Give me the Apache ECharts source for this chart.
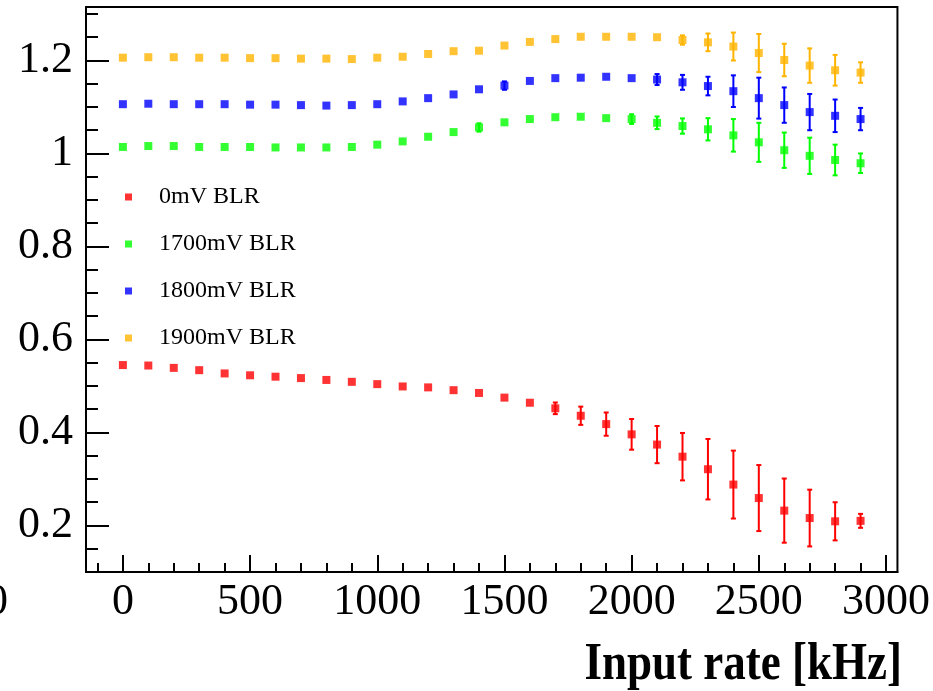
<!DOCTYPE html>
<html><head><meta charset="utf-8">
<script src="https://cdn.jsdelivr.net/npm/echarts@6/dist/echarts.min.js"></script>
<style>html,body{margin:0;padding:0;background:#fff}#c{width:933px;height:691px}</style>
</head><body><div id="c"></div>
<script>
// Input rate [kHz]
const rates = [0,100,200,300,400,500,600,700,800,900,1000,1100,1200,1300,1400,1500,1600,1700,1800,1900,2000,2100,2200,2300,2400,2500,2600,2700,2800,2900];
const names = ['0mV BLR','1700mV BLR','1800mV BLR','1900mV BLR'];
const colors = ['#ff0000','#00ff00','#0000ff','#ffb400'];
const bl0 = [0.545,0.544,0.539,0.534,0.527,0.523,0.520,0.517,0.513,0.509,0.504,0.499,0.497,0.491,0.485,0.475,0.464,0.452,0.436,0.418,0.396,0.374,0.348,0.321,0.288,0.259,0.232,0.216,0.209,0.210];
const bl0Err = [0,0,0,0,0,0,0,0,0,0,0,0,0,0,0,0,0,0.0125,0.0196,0.025,0.033,0.040,0.051,0.065,0.073,0.071,0.069,0.061,0.041,0.015];
const bl1700 = [1.014,1.016,1.016,1.014,1.014,1.014,1.013,1.013,1.013,1.014,1.019,1.026,1.036,1.046,1.056,1.067,1.074,1.078,1.079,1.076,1.074,1.066,1.059,1.052,1.039,1.024,1.007,0.995,0.986,0.979];
const bl1700Err = [0,0,0,0,0,0,0,0,0,0,0,0,0,0,0.009,0,0,0,0,0,0.0104,0.0136,0.0164,0.024,0.035,0.042,0.038,0.039,0.033,0.021];
const bl1800 = [1.106,1.107,1.106,1.106,1.106,1.105,1.105,1.104,1.103,1.104,1.106,1.112,1.119,1.127,1.138,1.146,1.156,1.162,1.163,1.165,1.162,1.159,1.153,1.145,1.134,1.119,1.104,1.089,1.081,1.074];
const bl1800Err = [0,0,0,0,0,0,0,0,0,0,0,0,0,0,0,0.009,0,0,0,0,0,0.0118,0.016,0.020,0.034,0.044,0.038,0.039,0.035,0.024];
const bl1900 = [1.206,1.207,1.207,1.206,1.206,1.205,1.205,1.204,1.204,1.203,1.206,1.208,1.214,1.220,1.221,1.232,1.240,1.246,1.251,1.251,1.251,1.250,1.244,1.239,1.230,1.216,1.201,1.189,1.179,1.174];
const bl1900Err = [0,0,0,0,0,0,0,0,0,0,0,0,0,0,0,0,0,0,0,0,0,0,0.010,0.019,0.030,0.041,0.035,0.037,0.033,0.022];
const xMajorTicks = [0,500,1000,1500,2000,2500,3000];
const xMinorTicks = [-100,0,100,200,300,400,500,600,700,800,900,1000,1100,1200,1300,1400,1500,1600,1700,1800,1900,2000,2100,2200,2300,2400,2500,2600,2700,2800,2900,3000];
const yMajorTicks = [0.2,0.4,0.6,0.8,1.0,1.2];
const yMinorTicks = [0.15,0.2,0.25,0.3,0.35,0.4,0.45,0.5,0.55,0.6,0.65,0.7,0.75,0.8,0.85,0.9,0.95,1.0,1.05,1.1,1.15,1.2,1.25,1.3];

const allY = [bl0, bl1700, bl1800, bl1900];
const allErr = [bl0Err, bl1700Err, bl1800Err, bl1900Err];
const FONT = 'Liberation Serif';

const chart = echarts.init(document.getElementById('c'), null, {renderer:'canvas'});
const series = [];
names.forEach((n, k) => {
  const color = colors[k];
  series.push({
    type: 'custom', name: n + ' err', xAxisIndex: 0, yAxisIndex: 0, silent: true, z: 2,
    data: rates.map((x, i) => [x, allY[k][i], allErr[k][i]]),
    encode: {x: 0, y: 1},
    renderItem: (params, api) => {
      const x = api.value(0), y = api.value(1), e = api.value(2);
      if (!e) return null;
      const t = api.coord([x, y + e]), b = api.coord([x, y - e]);
      const c = 2.5;
      const st = {stroke: color, lineWidth: 2};
      return {type: 'group', children: [
        {type: 'line', shape: {x1: t[0], y1: t[1], x2: b[0], y2: b[1]}, style: st},
        {type: 'line', shape: {x1: t[0] - c, y1: t[1], x2: t[0] + c, y2: t[1]}, style: st},
        {type: 'line', shape: {x1: b[0] - c, y1: b[1], x2: b[0] + c, y2: b[1]}, style: st}
      ]};
    }
  });
  series.push({
    type: 'scatter', name: n, xAxisIndex: 0, yAxisIndex: 0, z: 3,
    symbol: 'rect', symbolSize: 8,
    itemStyle: {color: color},
    data: rates.map((x, i) => [x, allY[k][i]])
  });
});

const labelStyle = {fontFamily: FONT, fontSize: 44, color: '#000', formatter: v => String(+v.toFixed(2))};
chart.setOption({
  animation: false,
  backgroundColor: '#fff',
  grid: {left: 86, right: 34, top: 7, bottom: 119, show: true, borderColor: '#000', borderWidth: 2, backgroundColor: 'transparent'},
  legend: {
    data: names, orient: 'vertical', left: 120, top: 180,
    icon: 'rect', itemWidth: 7, itemHeight: 7, itemGap: 23,
    textStyle: {fontFamily: FONT, fontSize: 24, color: '#000', lineHeight: 24, padding: [0, 0, 0, 22]}
  },
  xAxis: [
    {type: 'value', min: -145, max: 3045, position: 'bottom',
     axisLine: {show: true, onZero: false, lineStyle: {color: '#000', width: 2}},
     axisTick: {show: true, inside: true, length: 17, customValues: xMajorTicks, lineStyle: {color: '#000', width: 2}},
     axisLabel: Object.assign({customValues: xMajorTicks, margin: 8}, labelStyle),
     splitLine: {show: false}},
    {type: 'value', min: -145, max: 3045, position: 'bottom',
     axisLine: {show: false, onZero: false},
     axisTick: {show: true, inside: true, length: 9, customValues: xMinorTicks, lineStyle: {color: '#000', width: 2}},
     axisLabel: {show: false}, splitLine: {show: false}}
  ],
  yAxis: [
    {type: 'value', min: 0.1, max: 1.315, position: 'left',
     axisLine: {show: true, onZero: false, lineStyle: {color: '#000', width: 2}},
     axisTick: {show: true, inside: true, length: 23, customValues: yMajorTicks, lineStyle: {color: '#000', width: 2}},
     axisLabel: Object.assign({customValues: yMajorTicks, margin: 13}, labelStyle),
     splitLine: {show: false}},
    {type: 'value', min: 0.1, max: 1.315, position: 'left',
     axisLine: {show: false, onZero: false},
     axisTick: {show: true, inside: true, length: 12, customValues: yMinorTicks, lineStyle: {color: '#000', width: 2}},
     axisLabel: {show: false}, splitLine: {show: false}}
  ],
  graphic: [
    {type: 'text', x: 902, y: 665, scaleY: 1.17,
     style: {text: 'Input rate [kHz]', font: 'bold 45px "Liberation Serif"', fill: '#000', align: 'right', verticalAlign: 'middle'}},
    {type: 'text', left: -14, top: 580, style: {text: '0', font: '44px "Liberation Serif"', fill: '#000'}}
  ],
  series: series
});
</script></body></html>
